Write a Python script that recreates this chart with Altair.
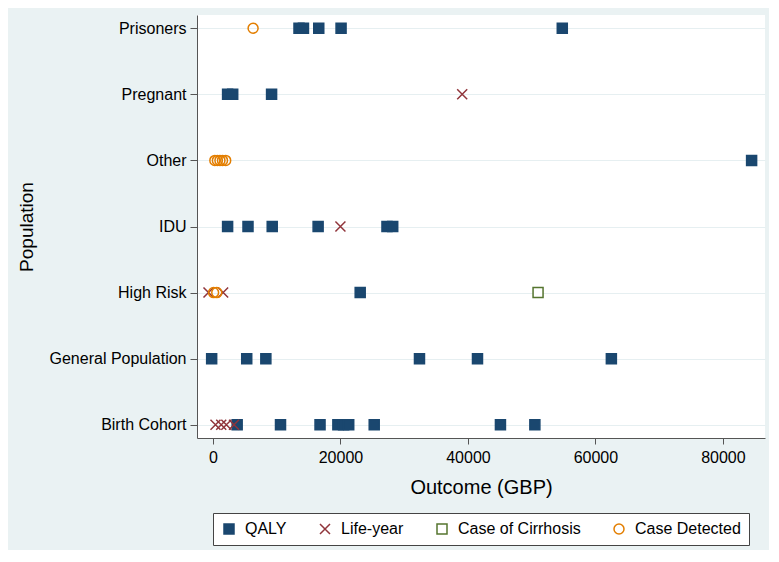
import altair as alt
import pandas as pd

populations = ["Prisoners", "Pregnant", "Other", "IDU", "High Risk",
               "General Population", "Birth Cohort"]
measures = ["QALY", "Life-year", "Case of Cirrhosis", "Case Detected"]

qaly = {
    "Prisoners": [13500, 14200, 16600, 20100, 54800],
    "Pregnant": [2300, 3100, 9200],
    "Other": [84500],
    "IDU": [2300, 5500, 9300, 16500, 27300, 28200],
    "High Risk": [23100],
    "General Population": [-200, 5300, 8300, 32400, 41500, 62500],
    "Birth Cohort": [3800, 10600, 16800, 19600, 20500, 21300, 25300, 45100, 50500],
}
life_year = {
    "Pregnant": [39100],
    "IDU": [20000],
    "High Risk": [-700, 1600],
    "Birth Cohort": [400, 1300, 2100, 3300],
}
cirrhosis = {
    "High Risk": [51000],
}
detected = {
    "Prisoners": [6300],
    "Other": [300, 700, 1100, 1500, 2000],
    "High Risk": [100, 600],
}

rows = []
for m, d in zip(measures, [qaly, life_year, cirrhosis, detected]):
    for pop, vals in d.items():
        for v in vals:
            rows.append({"Population": pop, "Measure": m, "Outcome": v})
df = pd.DataFrame(rows)

colors = ["#1a476f", "#90353b", "#55752f", "#e37e00"]
fills = ["#1a476f", "transparent", "white", "transparent"]
xpath = "M-1,-1L1,1M-1,1L1,-1"
shapes = ["square", xpath, "square", "circle"]

FONT = "Liberation Sans"

leg = alt.Legend(
    orient="none", legendX=16, legendY=498, direction="horizontal",
    title=None, strokeColor="#444", fillColor="white", padding=8,
    labelFontSize=16, labelFont=FONT, labelColor="black",
    symbolSize=100, symbolStrokeWidth=1.5, columnPadding=30,
    labelOffset=8, symbolOpacity=1,
)

chart = alt.Chart(df).mark_point(size=100, strokeWidth=1.5, opacity=1).encode(
    x=alt.X("Outcome:Q",
            scale=alt.Scale(domain=[-2500, 86600], nice=False, zero=False),
            axis=alt.Axis(values=[0, 20000, 40000, 60000, 80000], format="d",
                          grid=False, title="Outcome (GBP)", titleFontSize=20,
                          titleFont=FONT, titleFontWeight="normal",
                          labelFontSize=16, labelFont=FONT, labelColor="black",
                          titleColor="black", tickSize=6, labelPadding=5,
                          titlePadding=12, domainColor="#555", tickColor="#555")),
    y=alt.Y("Population:N", sort=populations,
            scale=alt.Scale(padding=0.2),
            axis=alt.Axis(title="Population", titleFontSize=19, titleFont=FONT,
                          titleFontWeight="normal", titleColor="black",
                          labelFontSize=16, labelFont=FONT, labelColor="black",
                          tickSize=7, labelPadding=4, titlePadding=13,
                          grid=True, gridColor="#e6eff1", gridWidth=1.2,
                          domainColor="#555", tickColor="#555")),
    shape=alt.Shape("Measure:N", scale=alt.Scale(domain=measures, range=shapes), legend=leg),
    stroke=alt.Stroke("Measure:N", scale=alt.Scale(domain=measures, range=colors), legend=leg),
    fill=alt.Fill("Measure:N", scale=alt.Scale(domain=measures, range=fills), legend=leg),
).properties(
    width=568, height=423,
    autosize=alt.AutoSizeParams(type="none"),
    padding={"left": 189, "top": 7, "right": 4, "bottom": 112},
    background="#eaf2f3",
).configure_view(fill="white", stroke=None)

chart.save("out.html", embed_options={"renderer": "svg", "actions": False})
